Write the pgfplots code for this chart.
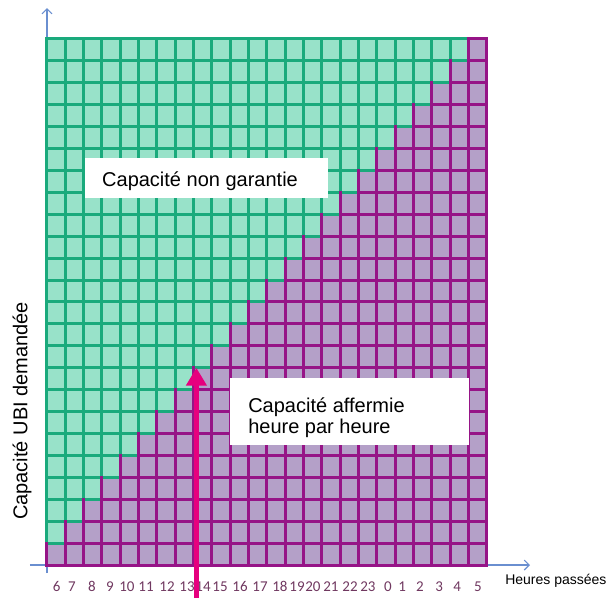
\documentclass[border=0pt]{standalone}
\usepackage{pgfplots}
\pgfplotsset{compat=1.18}
\usetikzlibrary{arrows.meta}
\usepackage{fontspec}
\setmainfont{Liberation Sans}
\newfontfamily\carlito{Carlito}
\definecolor{gfill}{RGB}{152,226,201}
\definecolor{gline}{RGB}{26,170,124}
\definecolor{pfill}{RGB}{180,160,200}
\definecolor{pline}{RGB}{150,20,135}
\definecolor{axblue}{RGB}{106,143,208}
\definecolor{tickcol}{RGB}{112,56,96}
\definecolor{arrowpink}{RGB}{230,0,126}
\begin{document}
\begin{tikzpicture}
\begin{axis}[
  x=18.33pt, y=21.92pt,
  xmin=-0.93, xmax=26.35, ymin=-0.365, ymax=25.41,
  axis lines=middle,
  axis line style={draw=axblue, line width=1.1pt},
  every inner x axis line/.append style={-{Straight Barb[length=5pt,width=10pt]}},
  every inner y axis line/.append style={-{Straight Barb[length=5pt,width=10pt]}},
  tick style={draw=none},
  ytick=\empty,
  xtick={0.529,1.364,2.455,3.437,4.364,5.401,6.547,7.638,8.511,9.438,10.529,11.62,12.71,13.64,14.51,15.49,16.53,17.51,18.6,19.37,20.35,21.39,22.37,23.51},
  xticklabels={6,7,8,9,10,11,12,13,14,15,16,17,18,19,20,21,22,23,0,1,2,3,4,5},
  xticklabel style={font=\carlito\fontsize{15}{15}\selectfont, text=tickcol, anchor=base, yshift=-24pt},
  clip=false,
  unbounded coords=jump,
]
% page extent
\path (axis cs:-2.564,25.776) rectangle (axis cs:30.55,-1.505);
% green area (whole grid)
\addplot[fill=gfill, draw=none] coordinates {(0,0) (24,0) (24,24) (0,24)};
% purple staircase area
\addplot[fill=pfill, draw=none] coordinates {
(0,0) (24,0) (24,24) (23,24) (23,23) (22,23) (22,22) (21,22) (21,21) (20,21) (20,20)
(19,20) (19,19) (18,19) (18,18) (17,18) (17,17) (16,17) (16,16) (15,16) (15,15)
(14,15) (14,14) (13,14) (13,13) (12,13) (12,12) (11,12) (11,11) (10,11) (10,10)
(9,10) (9,9) (8,9) (8,8) (7,8) (7,7) (6,7) (6,6) (5,6) (5,5) (4,5) (4,4) (3,4)
(3,3) (2,3) (2,2) (1,2) (1,1) (0,1)};
% green grid lines
\addplot[draw=gline, line width=3pt, line cap=rect] coordinates {
(0,1) (0,24) (nan,nan) (1,2) (1,24) (nan,nan) (2,3) (2,24) (nan,nan) (3,4) (3,24) (nan,nan)
(4,5) (4,24) (nan,nan) (5,6) (5,24) (nan,nan) (6,7) (6,24) (nan,nan) (7,8) (7,24) (nan,nan)
(8,9) (8,24) (nan,nan) (9,10) (9,24) (nan,nan) (10,11) (10,24) (nan,nan) (11,12) (11,24) (nan,nan)
(12,13) (12,24) (nan,nan) (13,14) (13,24) (nan,nan) (14,15) (14,24) (nan,nan) (15,16) (15,24) (nan,nan)
(16,17) (16,24) (nan,nan) (17,18) (17,24) (nan,nan) (18,19) (18,24) (nan,nan) (19,20) (19,24) (nan,nan)
(20,21) (20,24) (nan,nan) (21,22) (21,24) (nan,nan) (22,23) (22,24) (nan,nan)
(0,1) (1,1) (nan,nan) (0,2) (2,2) (nan,nan) (0,3) (3,3) (nan,nan) (0,4) (4,4) (nan,nan)
(0,5) (5,5) (nan,nan) (0,6) (6,6) (nan,nan) (0,7) (7,7) (nan,nan) (0,8) (8,8) (nan,nan)
(0,9) (9,9) (nan,nan) (0,10) (10,10) (nan,nan) (0,11) (11,11) (nan,nan) (0,12) (12,12) (nan,nan)
(0,13) (13,13) (nan,nan) (0,14) (14,14) (nan,nan) (0,15) (15,15) (nan,nan) (0,16) (16,16) (nan,nan)
(0,17) (17,17) (nan,nan) (0,18) (18,18) (nan,nan) (0,19) (19,19) (nan,nan) (0,20) (20,20) (nan,nan)
(0,21) (21,21) (nan,nan) (0,22) (22,22) (nan,nan) (0,23) (23,23) (nan,nan) (0,24) (23,24)};
% purple grid lines
\addplot[draw=pline, line width=3pt, line cap=rect] coordinates {
(0,0) (0,1) (nan,nan) (1,0) (1,2) (nan,nan) (2,0) (2,3) (nan,nan) (3,0) (3,4) (nan,nan)
(4,0) (4,5) (nan,nan) (5,0) (5,6) (nan,nan) (6,0) (6,7) (nan,nan) (7,0) (7,8) (nan,nan)
(8,0) (8,9) (nan,nan) (9,0) (9,10) (nan,nan) (10,0) (10,11) (nan,nan) (11,0) (11,12) (nan,nan)
(12,0) (12,13) (nan,nan) (13,0) (13,14) (nan,nan) (14,0) (14,15) (nan,nan) (15,0) (15,16) (nan,nan)
(16,0) (16,17) (nan,nan) (17,0) (17,18) (nan,nan) (18,0) (18,19) (nan,nan) (19,0) (19,20) (nan,nan)
(20,0) (20,21) (nan,nan) (21,0) (21,22) (nan,nan) (22,0) (22,23) (nan,nan) (23,0) (23,24) (nan,nan)
(24,0) (24,24) (nan,nan)
(0,0) (24,0) (nan,nan) (1,1) (24,1) (nan,nan) (2,2) (24,2) (nan,nan) (3,3) (24,3) (nan,nan)
(4,4) (24,4) (nan,nan) (5,5) (24,5) (nan,nan) (6,6) (24,6) (nan,nan) (7,7) (24,7) (nan,nan)
(8,8) (24,8) (nan,nan) (9,9) (24,9) (nan,nan) (10,10) (24,10) (nan,nan) (11,11) (24,11) (nan,nan)
(12,12) (24,12) (nan,nan) (13,13) (24,13) (nan,nan) (14,14) (24,14) (nan,nan) (15,15) (24,15) (nan,nan)
(16,16) (24,16) (nan,nan) (17,17) (24,17) (nan,nan) (18,18) (24,18) (nan,nan) (19,19) (24,19) (nan,nan)
(20,20) (24,20) (nan,nan) (21,21) (24,21) (nan,nan) (22,22) (24,22) (nan,nan) (23,23) (24,23) (nan,nan)
(23,24) (24,24)};
% text boxes
\fill[white] (axis cs:2.075,16.74) rectangle (axis cs:15.33,18.57);
\node[anchor=base west, inner sep=0pt, font=\fontsize{20}{24}\selectfont] at (axis cs:3.0,17.29) {Capacité non garantie};
\fill[white] (axis cs:9.98,5.47) rectangle (axis cs:23.02,8.53);
\node[anchor=base west, inner sep=0pt, font=\fontsize{20}{24}\selectfont] at (axis cs:10.97,6.98) {Capacité affermie};
\node[anchor=base west, inner sep=0pt, font=\fontsize{20}{24}\selectfont] at (axis cs:10.97,6.02) {heure par heure};
% axis descriptions
\node[anchor=base, rotate=90, inner sep=0pt, font=\fontsize{20}{24}\selectfont] at (axis cs:-1.064,7.03) {Capacité UBI demandée};
\node[anchor=base west, inner sep=0pt, font=\fontsize{14}{16}\selectfont] at (axis cs:24.99,-0.867) {Heures passées};
% magenta arrow
\draw[arrowpink, line width=5pt, -{Triangle[length=18pt,width=20pt]}] (axis cs:8.15,-1.505) -- (axis cs:8.15,9);
\end{axis}
\end{tikzpicture}
\end{document}
